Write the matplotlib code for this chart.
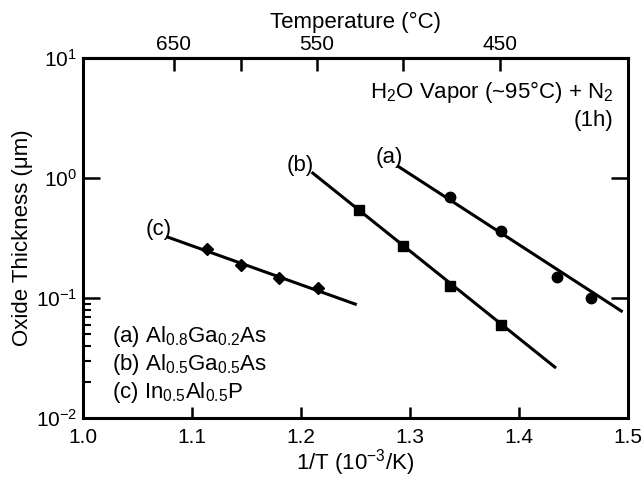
import numpy as np
import matplotlib
matplotlib.use("Agg")
import matplotlib.pyplot as plt
from matplotlib.ticker import FixedLocator, NullFormatter

plt.rcParams['font.family'] = ['Liberation Sans', 'DejaVu Sans']
plt.rcParams['mathtext.fontset'] = 'custom'
plt.rcParams['mathtext.rm'] = 'Liberation Sans'
plt.rcParams['mathtext.default'] = 'regular'

# measured points (1/T in 1e-3/K, thickness in um)
a_x = [1.337, 1.384, 1.435, 1.466]
a_y = [0.69, 0.365, 0.150, 0.100]
b_x = [1.253, 1.294, 1.337, 1.384]
b_y = [0.54, 0.271, 0.126, 0.060]
c_x = [1.114, 1.145, 1.180, 1.216]
c_y = [0.256, 0.188, 0.147, 0.121]

# fit line end points
a_fit_x = [1.290, 1.494]
a_fit_y = [1.24, 0.078]
b_fit_x = [1.211, 1.433]
b_fit_y = [1.10, 0.0266]
c_fit_x = [1.078, 1.250]
c_fit_y = [0.322, 0.089]

temp_ticks = [650, 600, 550, 500, 450]
temp_labels = ['650', '', '550', '', '450']

fs = 16
tfs = 15

fig = plt.figure(figsize=(6.42, 4.8), dpi=100)
ax = fig.add_axes([0.129, 0.129, 0.849, 0.75])

lw = 2.2
ax.plot(a_fit_x, a_fit_y, color='black', lw=lw)
ax.plot(b_fit_x, b_fit_y, color='black', lw=lw)
ax.plot(c_fit_x, c_fit_y, color='black', lw=lw)
ax.plot(a_x, a_y, 'o', color='black', ms=7.5)
ax.plot(b_x, b_y, 's', color='black', ms=7)
ax.plot(c_x, c_y, 'D', color='black', ms=6.5)

ax.set_yscale('log')
ax.set_xlim(1.0, 1.5)
ax.set_ylim(1e-2, 1e1)
ax.set_xticks([1.0, 1.1, 1.2, 1.3, 1.4, 1.5])
ax.set_xticklabels(['1.0', '1.1', '1.2', '1.3', '1.4', '1.5'])
ax.set_yticks([1e-2, 1e-1, 1e0, 1e1])
ax.yaxis.set_minor_locator(FixedLocator([0.02, 0.03, 0.04, 0.05, 0.06, 0.07, 0.08, 0.09]))
ax.yaxis.set_minor_formatter(NullFormatter())

for s in ax.spines.values():
    s.set_linewidth(2.2)

ax.tick_params(axis='x', which='major', direction='in', length=8, width=1.8,
               labelsize=tfs, pad=7, top=False)
ax.tick_params(axis='y', which='major', direction='in', length=12, width=1.8,
               labelsize=tfs, pad=4, right=True)
ax.tick_params(axis='y', which='minor', direction='in', length=6, width=1.5,
               right=False)

ax.set_xlabel('1/T (10$^{-3}$/K)', fontsize=fs, labelpad=0)
ax.set_ylabel('Oxide Thickness (\u03bcm)', fontsize=fs, labelpad=2)

top = ax.secondary_xaxis('top', functions=(lambda v: 1000.0 / v - 273.15,
                                           lambda t: 1000.0 / (t + 273.15)))
top.set_xticks(temp_ticks)
top.set_xticklabels(temp_labels)
top.tick_params(direction='in', length=9, width=1.8, labelsize=tfs, pad=3)
top.set_xlabel('Temperature (\u00b0C)', fontsize=fs, labelpad=5)
top.spines['top'].set_linewidth(2.2)

ax.text(1.487, 5.2, 'H$_2$O Vapor (~95\u00b0C) + N$_2$', fontsize=fs,
        ha='right', va='center')
ax.text(1.487, 3.0, '(1h)', fontsize=fs, ha='right', va='center')

ax.text(1.281, 1.48, '(a)', fontsize=fs, ha='center', va='center')
ax.text(1.199, 1.27, '(b)', fontsize=fs, ha='center', va='center')
ax.text(1.070, 0.37, '(c)', fontsize=fs, ha='center', va='center')

ax.text(1.027, 0.048, '(a) Al$_{0.8}$Ga$_{0.2}$As', fontsize=fs, va='center')
ax.text(1.027, 0.028, '(b) Al$_{0.5}$Ga$_{0.5}$As', fontsize=fs, va='center')
ax.text(1.027, 0.0163, '(c) In$_{0.5}$Al$_{0.5}$P', fontsize=fs, va='center')

fig.savefig('out.png', dpi=100)
